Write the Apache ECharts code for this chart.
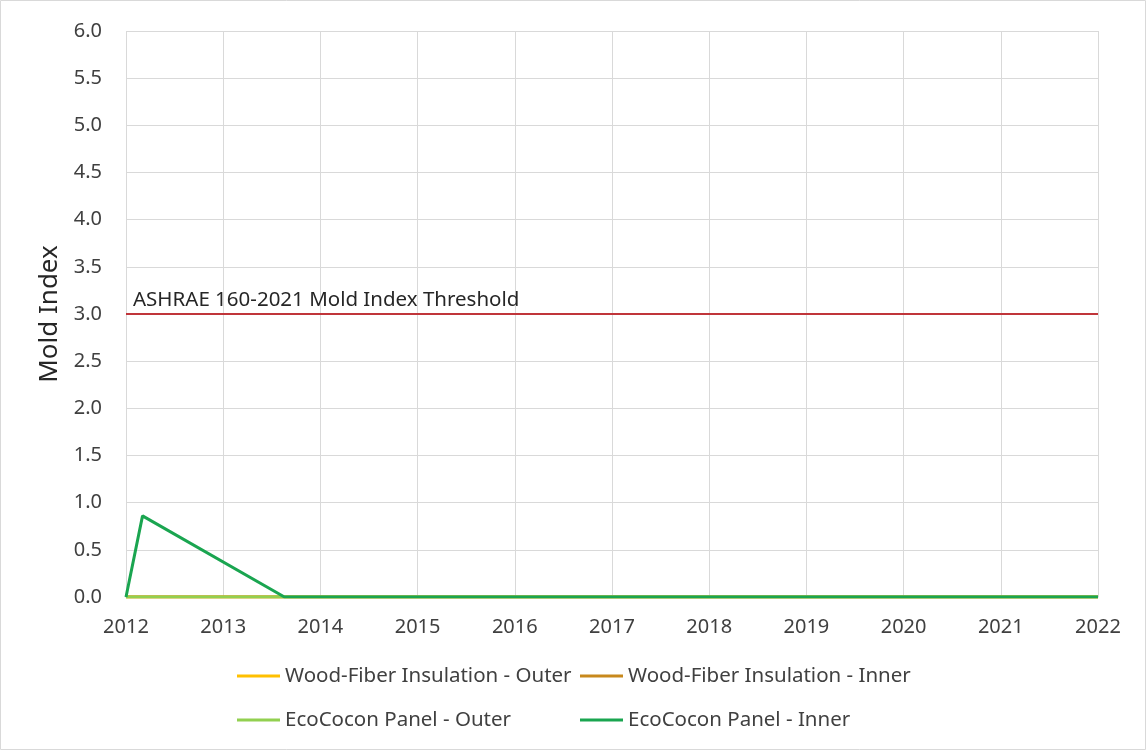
<!DOCTYPE html>
<html><head><meta charset="utf-8">
<script src="https://cdn.jsdelivr.net/npm/echarts@6/dist/echarts.min.js"></script>
<style>html,body{margin:0;padding:0;background:#fff}#c{width:1146px;height:750px}</style>
</head><body><div id="c"></div>
<script>
const seriesNames = ["Wood-Fiber Insulation - Outer","Wood-Fiber Insulation - Inner","EcoCocon Panel - Outer","EcoCocon Panel - Inner"];
const seriesColors = ["#FFC000","#C8891C","#92D050","#1AA550"];
const woodOuter = [[2012,0],[2022,0]];
const woodInner = [[2012,0],[2022,0]];
const ecoOuter = [[2012,0],[2022,0]];
const ecoInner = [[2012,0],[2012.17,0.86],[2013.63,0],[2022,0]];
const thresholdValue = 3.0;
const thresholdLabel = "ASHRAE 160-2021 Mold Index Threshold";
const yAxisName = "Mold Index";

const font = "'Noto Sans', sans-serif";
const chart = echarts.init(document.getElementById('c'));
const allData = [woodOuter, woodInner, ecoOuter, ecoInner];
const series = allData.map((d,i)=>({
  name: seriesNames[i], type:'line', data:d, symbol:'none', showSymbol:false,
  lineStyle:{color:seriesColors[i], width:3}, itemStyle:{color:seriesColors[i]},
  z: 3+i, animation:false
}));
series[0].markLine = {
  silent:true, symbol:'none', animation:false,
  lineStyle:{color:'#C0353A', width:2, type:'solid'},
  label:{show:true, position:'insideStartTop', formatter:thresholdLabel, color:'#262626',
    fontFamily:font, fontSize:20.5, distance:[7,3]},
  data:[{yAxis:thresholdValue}]
};
const legendText = {color:'#404040', fontFamily:font, fontSize:20.5, lineHeight:22};
chart.setOption({
  animation:false,
  graphic:[{type:'rect', shape:{x:0.5,y:0.5,width:1145,height:749}, style:{fill:'none', stroke:'#d9d9d9', lineWidth:1}}],
  grid:{left:126, right:48, top:31, bottom:153, containLabel:false},
  xAxis:{type:'value', min:2012, max:2022, interval:1,
    axisLine:{show:true, lineStyle:{color:'#d9d9d9'}}, axisTick:{show:false},
    splitLine:{show:true, lineStyle:{color:'#d9d9d9'}},
    axisLabel:{color:'#404040', fontFamily:font, fontSize:20, margin:20, formatter:v=>String(v)}},
  yAxis:{type:'value', min:0, max:6, interval:0.5, name:yAxisName, nameLocation:'middle', nameGap:62,
    nameTextStyle:{color:'#262626', fontFamily:font, fontSize:26},
    axisLine:{show:false}, axisTick:{show:false},
    splitLine:{show:true, lineStyle:{color:'#d9d9d9'}},
    axisLabel:{color:'#404040', fontFamily:font, fontSize:20, margin:24, formatter:v=>v.toFixed(1)}},
  legend:[
    {data:[seriesNames[0], seriesNames[2]], orient:'vertical', left:232, top:660, padding:5, itemGap:22, itemWidth:43, itemHeight:3,
     textStyle:legendText, icon:'rect'},
    {data:[seriesNames[1], seriesNames[3]], orient:'vertical', left:575, top:660, padding:5, itemGap:22, itemWidth:43, itemHeight:3,
     textStyle:legendText, icon:'rect'}
  ],
  series: series
});
</script></body></html>
